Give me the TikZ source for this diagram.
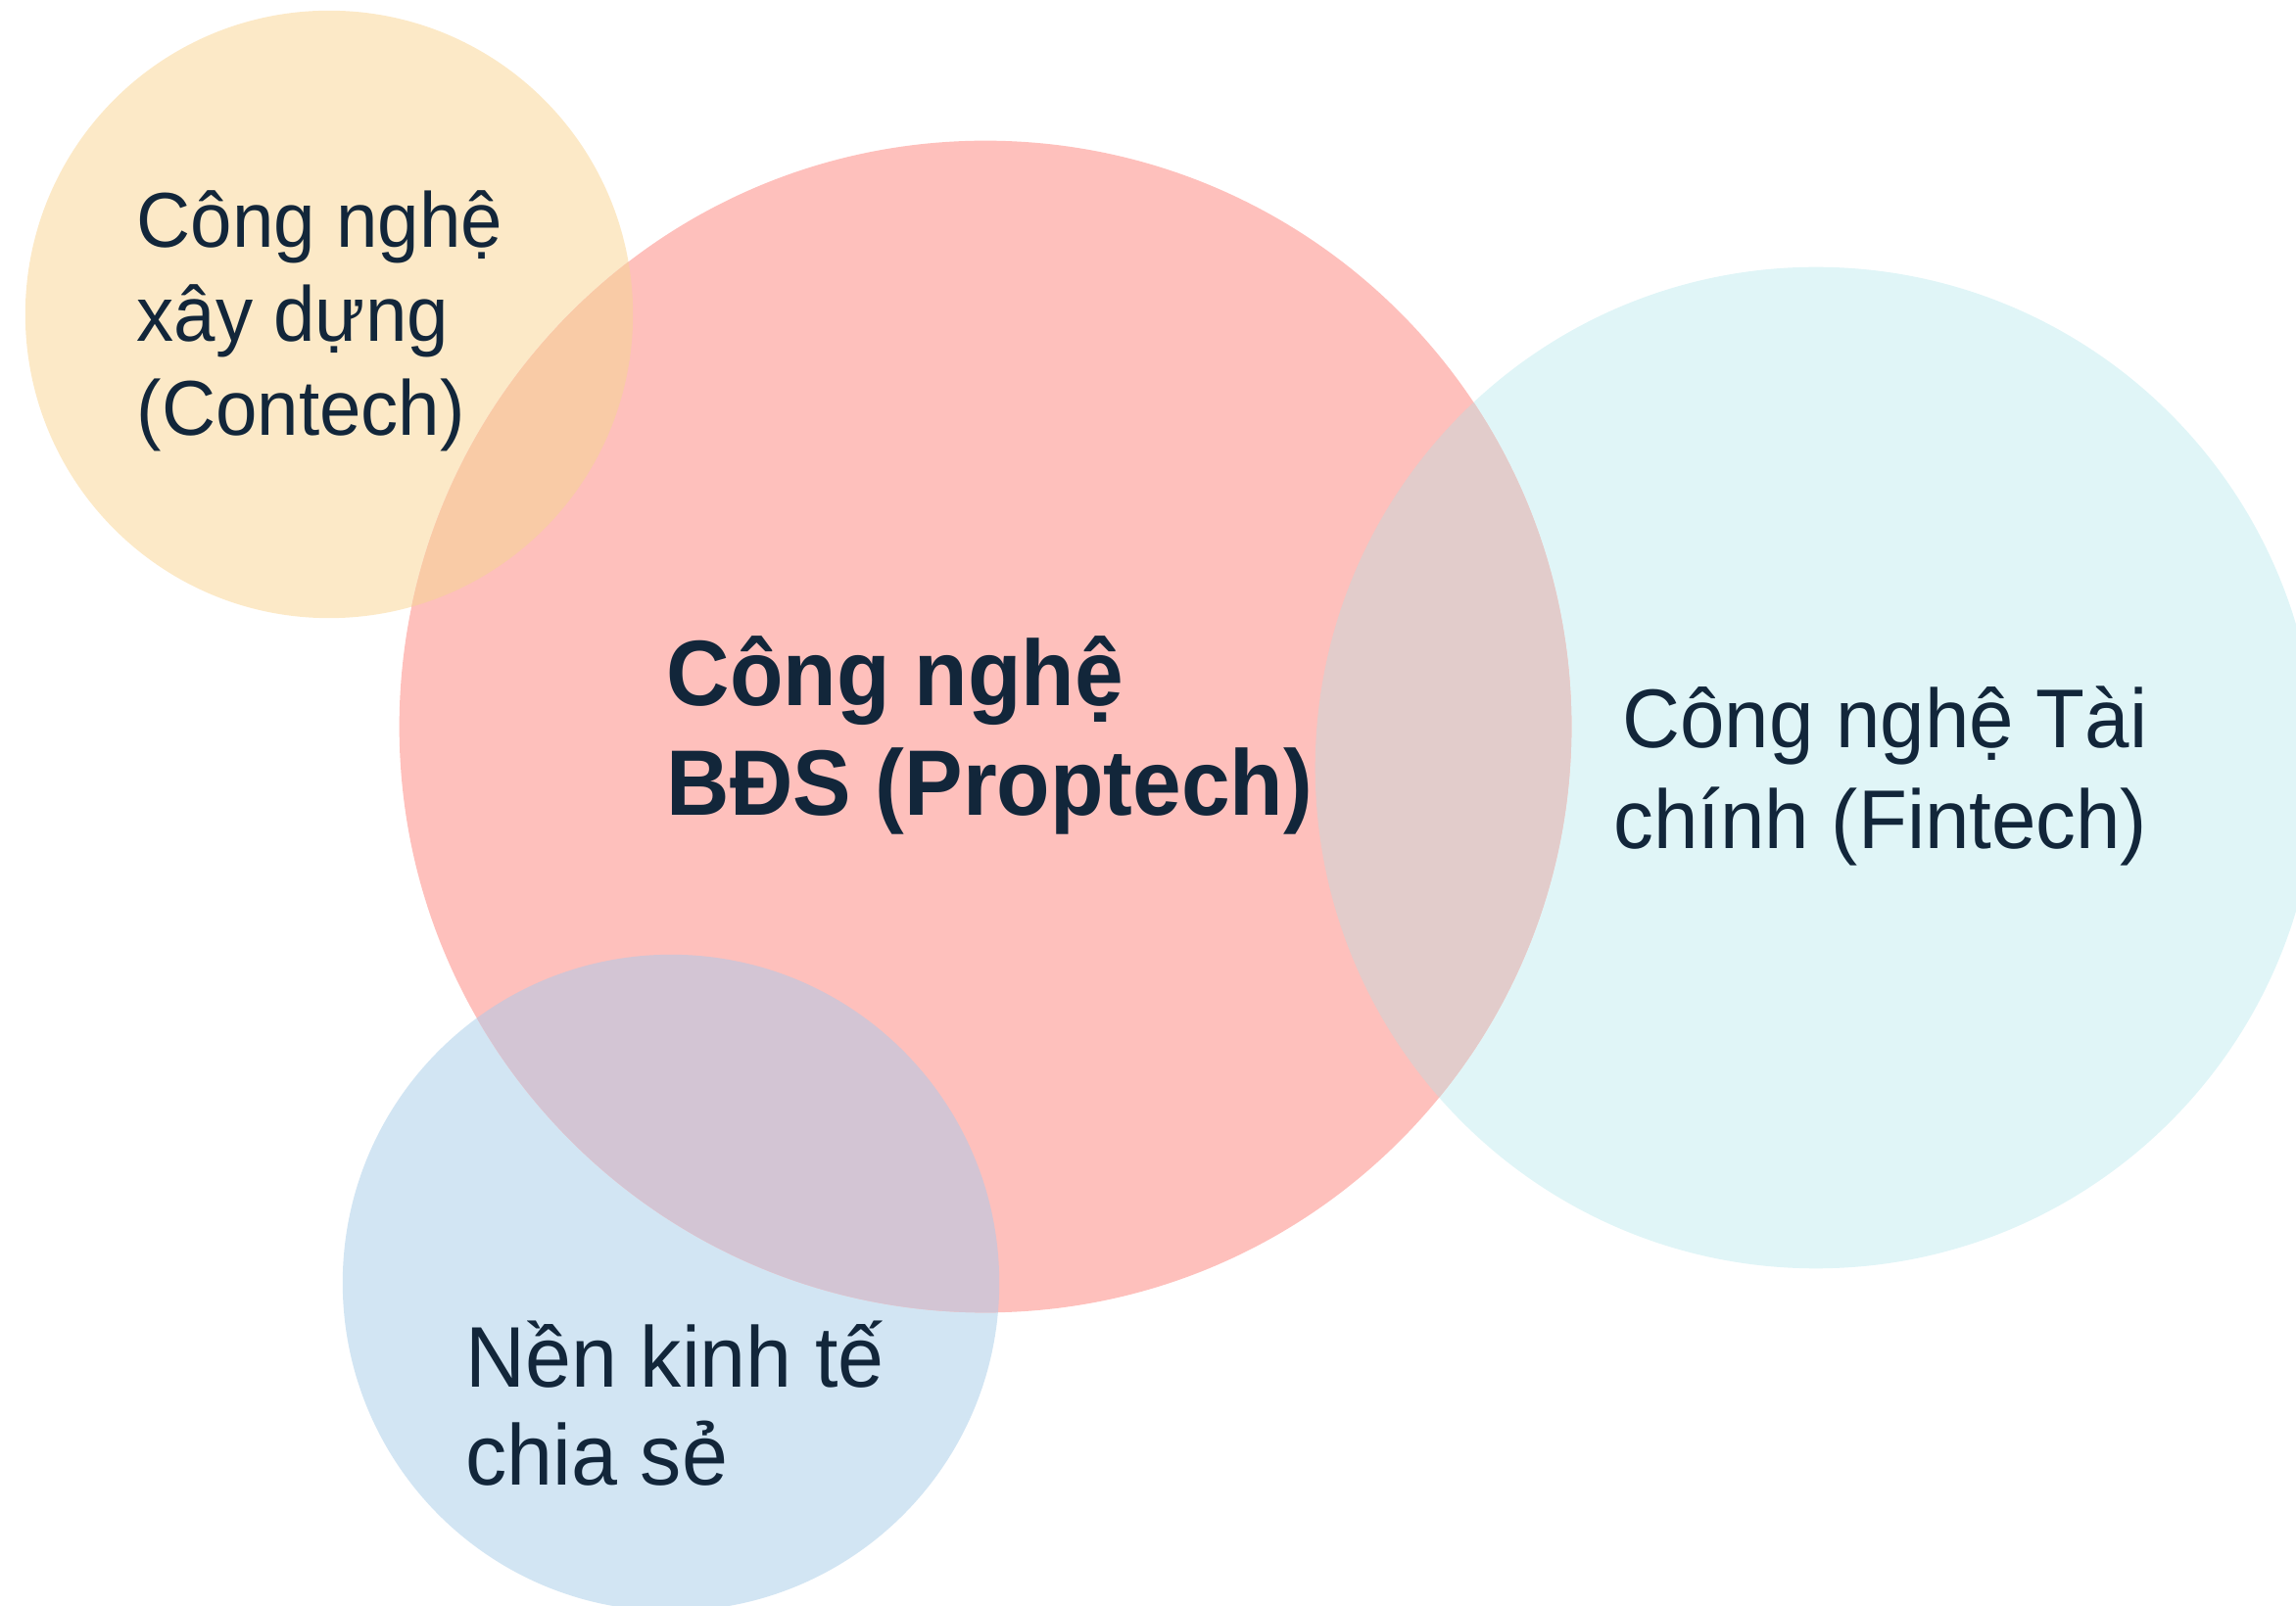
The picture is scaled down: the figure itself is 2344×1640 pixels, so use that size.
\documentclass[tikz,border=0pt]{standalone}
\usepackage{fontspec}
\setmainfont[FakeStretch=0.96]{Liberation Sans}
\newfontfamily\propfont[FakeStretch=0.94]{Liberation Sans Bold}
\usepackage{xcolor}
\usetikzlibrary{positioning}

\definecolor{contechc}{HTML}{FCE9C7}
\definecolor{proptechc}{HTML}{FEC0BC}
\definecolor{fintechc}{HTML}{E0F5F7}
\definecolor{sharingc}{HTML}{D2E5F3}
\definecolor{conpropc}{HTML}{F9CBA6}
\definecolor{finpropc}{HTML}{E2CCCB}
\definecolor{sharepropc}{HTML}{D3C5D4}
\definecolor{navy}{HTML}{12263A}

\tikzset{
	lbl/.style={text=navy, inner sep=0pt, anchor=base west, align=left},
}

\begin{document}
\begin{tikzpicture}[x=0.01cm, y=-0.01cm]
	\useasboundingbox (0,0) rectangle (2344,1640);
	% circles
	\fill[contechc] (336,321) circle (3.10cm);
	\fill[fintechc] (1854,784) circle (5.11cm);
	\fill[sharingc] (685,1310) circle (3.35cm);
	\fill[proptechc] (1006,742) circle (5.98cm);
	% overlaps
	\begin{scope}
		\clip (1006,742) circle (5.98cm);
		\fill[conpropc] (336,321) circle (3.10cm);
		\fill[finpropc] (1854,784) circle (5.11cm);
		\fill[sharepropc] (685,1310) circle (3.35cm);
	\end{scope}
	% labels (anchored at the baseline of the last line)
	\node[lbl, font=\fontsize{22.6}{27.3}\selectfont] (contech) at (139,445) {Công nghệ\\xây dựng\\(Contech)};
	\node[lbl, font=\propfont\fontsize{27}{32}\selectfont] (proptech) at (680,833) {Công nghệ\\BĐS (Proptech)};
	\node[lbl, anchor=base east, align=right, font=\fontsize{24.2}{29.3}\selectfont] (fintech) at (2193,867) {Công nghệ Tài\\chính (Fintech)};
	\node[lbl, font=\fontsize{25}{28.5}\selectfont] (sharing) at (475,1517) {Nền kinh tế\\chia sẻ};
\end{tikzpicture}
\end{document}
